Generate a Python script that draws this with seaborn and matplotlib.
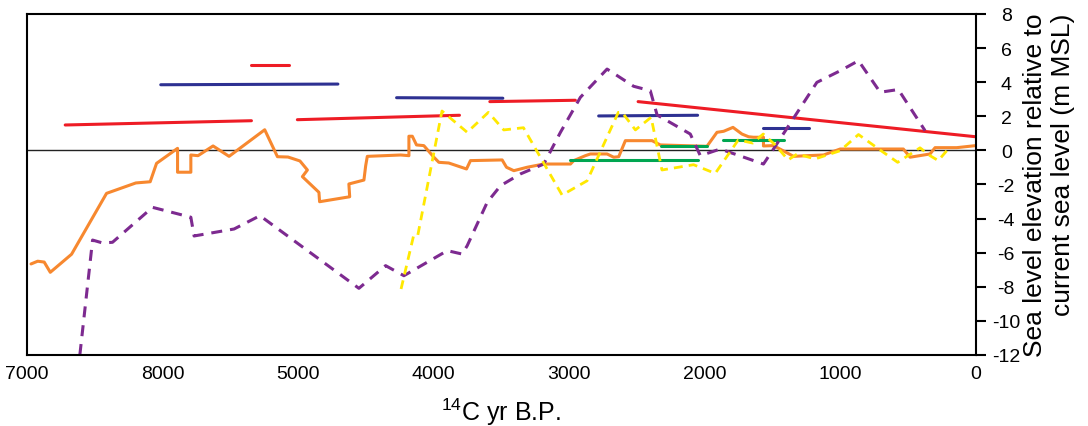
import numpy as np
import pandas as pd
import matplotlib
matplotlib.use('Agg')
import matplotlib.pyplot as plt
import seaborn as sns

# orange solid curve
orange_yr = [6970, 6921, 6873, 6828, 6671, 6413, 6197, 6091, 6044, 5889, 5889, 5791, 5791, 5738, 5627,
             5509, 5246, 5152, 5074, 4986, 4931, 4968, 4846, 4841, 4619, 4625, 4514, 4501, 4489, 4243,
             4182, 4182, 4157, 4126, 4072, 3998, 3961, 3888, 3757, 3728, 3494, 3462, 3408, 3310, 3187,
             2990, 2966, 2880, 2843, 2720, 2671, 2634, 2585, 2388, 2327, 1983, 1909, 1860, 1791, 1725,
             1676, 1639, 1566, 1566, 1492, 1344, 1246, 1123, 1000, 534, 484, 337, 300, 140, 0]
orange_lvl = [-6.66, -6.50, -6.55, -7.15, -6.09, -2.52, -1.91, -1.84, -0.76, 0.12, -1.28, -1.28, -0.27, -0.31, 0.26,
              -0.35, 1.21, -0.37, -0.39, -0.62, -1.15, -1.54, -2.46, -3.01, -2.72, -1.97, -1.74, -0.90, -0.35, -0.27,
              -0.31, 0.83, 0.83, 0.32, 0.28, -0.40, -0.70, -0.74, -1.09, -0.60, -0.56, -0.99, -1.19, -0.99, -0.80,
              -0.80, -0.60, -0.31, -0.21, -0.21, -0.40, -0.37, 0.57, 0.57, 0.32, 0.24, 1.06, 1.12, 1.35, 0.96,
              0.80, 0.77, 0.77, 0.26, 0.28, -0.35, -0.31, -0.27, 0.08, 0.08, -0.40, -0.21, 0.16, 0.16, 0.28]

# purple dashed curve
purple_yr = [6610, 6516, 6442, 6369, 6074, 5791, 5767, 5472, 5281, 4551, 4354, 4219, 3899, 3789, 3752, 3604,
             3506, 3359, 3187, 3064, 2917, 2720, 2524, 2401, 2351, 2106, 2032, 1885, 1566, 1492, 1172, 1000,
             865, 705, 571, 374]
purple_lvl = [-12.0, -5.26, -5.43, -5.39, -3.34, -3.92, -5.02, -4.61, -3.83, -8.09, -6.76, -7.35, -5.88, -6.08,
              -5.59, -3.04, -2.07, -1.38, -0.80, 1.06, 3.11, 4.77, 3.76, 3.50, 2.08, 0.96, -0.31, 0.08, -0.80,
              0.08, 3.99, 4.67, 5.26, 3.41, 3.57, 1.16]

# yellow dashed curve
yellow_yr = [4240, 4148, 4118, 3938, 3752, 3596, 3482, 3337, 3052, 2867, 2637, 2609, 2511, 2395, 2315, 2082,
             1922, 1752, 1645, 1568, 1479, 1384, 1317, 1185, 1000, 865, 698, 576, 411, 337, 276, 214]
yellow_lvl = [-8.13, -5.02, -5.04, 2.31, 1.06, 2.23, 1.20, 1.33, -2.62, -1.78, 2.23, 2.23, 1.20, 1.94, -1.15,
              -0.84, -1.35, 0.61, 0.43, 0.96, 0.32, -0.56, -0.21, -0.50, -0.02, 0.93, -0.02, -0.70, 0.15,
              -0.31, -0.60, -0.02]

# short dated segments
seg_kind = ['red', 'red', 'red', 'red', 'red', 'blue', 'blue', 'blue', 'blue', 'green', 'green', 'green']
seg_yr0 = [6718, 5344, 5005, 3585, 2491, 6013, 4273, 2782, 1566, 2990, 2320, 1868]
seg_yr1 = [5344, 5067, 3809, 2954, 0, 4706, 3489, 2052, 1231, 2052, 1981, 1411]
seg_lvl0 = [1.49, 5.03, 1.80, 2.86, 2.86, 3.85, 3.09, 2.02, 1.33, -0.55, 0.26, 0.63]
seg_lvl1 = [1.74, 5.03, 2.06, 2.94, 0.80, 3.89, 3.06, 2.06, 1.33, -0.55, 0.26, 0.63]

x_ticks = [7000, 6000, 5000, 4000, 3000, 2000, 1000, 0]
x_ticklabels = ['7000', '8000', '5000', '4000', '3000', '2000', '1000', '0']

seg_colors = {'red': '#EE1C25', 'blue': '#2E3192', 'green': '#00A651'}

rows = []
for i, (a, b, c, d, k) in enumerate(zip(seg_yr0, seg_yr1, seg_lvl0, seg_lvl1, seg_kind)):
    rows.append((i, a, c, k))
    rows.append((i, b, d, k))
seg_df = pd.DataFrame(rows, columns=['seg', 'year', 'level', 'kind'])

sns.set_style('white')
plt.rcParams['font.family'] = ['Liberation Sans', 'DejaVu Sans']
plt.rcParams['mathtext.default'] = 'regular'
plt.rcParams['axes.unicode_minus'] = False
for key in ['text.color', 'axes.labelcolor', 'xtick.color', 'ytick.color']:
    plt.rcParams[key] = 'black'

fig = plt.figure(figsize=(10.88, 4.27), dpi=100)
ax = fig.add_axes([0.0248, 0.1663, 0.8720, 0.7986])

ax.axhline(0, color='#222222', lw=1, zorder=1)

sns.lineplot(x=orange_yr, y=orange_lvl, sort=False, estimator=None, color='#F7882F', lw=2.2, ax=ax)
sns.lineplot(data=seg_df, x='year', y='level', units='seg', estimator=None, hue='kind',
             palette=seg_colors, sort=False, lw=2.2, legend=False, ax=ax)
sns.lineplot(x=purple_yr, y=purple_lvl, sort=False, estimator=None, color='#7D2A90', lw=2.2,
             linestyle=(0, (3.6, 2.6)), ax=ax)
sns.lineplot(x=yellow_yr, y=yellow_lvl, sort=False, estimator=None, color='#FFE800', lw=2.0,
             linestyle=(0, (3.2, 2.2)), ax=ax)

ax.set_xlim(7000, 0)
ax.set_ylim(-12, 8)
ax.set_xticks(x_ticks)
ax.set_xticklabels(x_ticklabels)
ax.set_xticks([5500, 4500], minor=True)
ax.tick_params(axis='x', which='major', direction='in', length=7, width=1.5, pad=7, labelsize=14)
ax.tick_params(axis='x', which='minor', direction='out', length=7, width=1.5)
ax.set_yticks(np.arange(-12, 9, 2))
ax.yaxis.tick_right()
ax.tick_params(axis='y', direction='out', length=7, width=1.5, pad=15, labelsize=14, left=False)
for lab in ax.get_yticklabels():
    lab.set_ha('center')

for sp in ax.spines.values():
    sp.set_linewidth(1.5)
    sp.set_color('black')

ax.set_xlabel('$^{14}$C yr B.P.', fontsize=18, labelpad=10)
ax.yaxis.set_label_position('right')
ax.set_ylabel('Sea level elevation relative to\ncurrent sea level (m MSL)', fontsize=19,
              rotation=90, labelpad=2, multialignment='right')

fig.savefig('out.png', dpi=100)
